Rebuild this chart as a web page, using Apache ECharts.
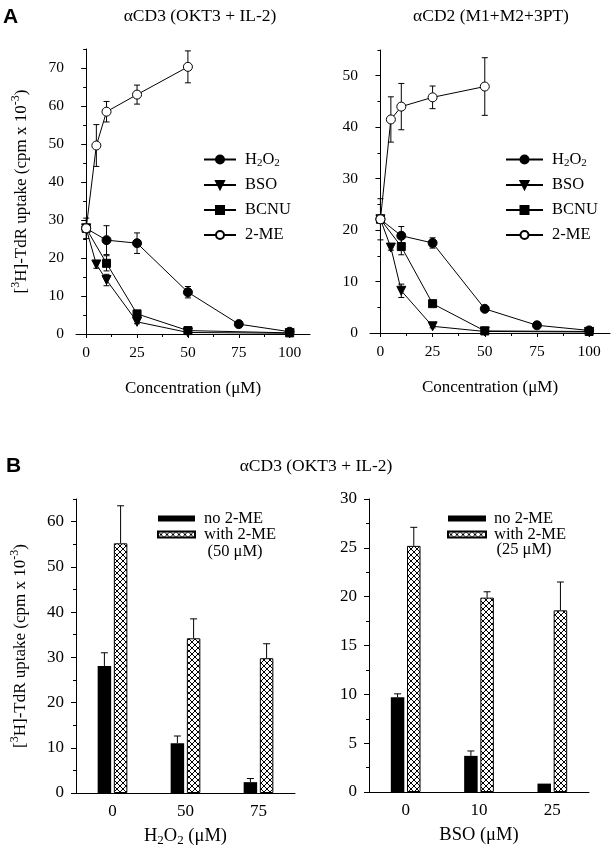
<!DOCTYPE html>
<html><head><meta charset="utf-8">
<script src="https://cdn.jsdelivr.net/npm/echarts@6/dist/echarts.min.js"></script>
<style>html,body{margin:0;padding:0;background:#fff}#c{width:612px;height:852px}</style>
</head><body><div id="c"></div>
<script>
// ---------- DATA ----------
// Panel A left: aCD3 (OKT3 + IL-2)
const cd3H2o2X = [0, 10, 25, 50, 75, 100];
const cd3H2o2Y = [27.8, 24.7, 23.9, 11.0, 2.6, 0.6];
const cd3H2o2E = [2.7, 3.8, 2.7, 1.5, 0, 0];
const cd3BsoX = [0, 5, 10, 25, 50, 100];
const cd3BsoY = [27.8, 18.3, 14.2, 3.2, 0.4, 0.2];
const cd3BsoE = [0, 1.0, 1.5, 0.5, 0, 0];
const cd3BcnuX = [0, 10, 25, 50, 100];
const cd3BcnuY = [27.8, 18.6, 5.3, 0.9, 0.3];
const cd3BcnuE = [0, 2.0, 0.8, 0, 0];
const cd3MeX = [0, 5, 10, 25, 50];
const cd3MeY = [27.8, 49.6, 58.5, 63.0, 70.3];
const cd3MeE = [0, 5.5, 2.7, 2.5, 4.2];
// Panel A right: aCD2 (M1+M2+3PT)
const cd2H2o2X = [0, 10, 25, 50, 75, 100];
const cd2H2o2Y = [22.1, 18.9, 17.5, 4.7, 1.5, 0.5];
const cd2H2o2E = [4.0, 1.8, 1.0, 0.4, 0, 0];
const cd2BsoX = [0, 5, 10, 25, 50, 100];
const cd2BsoY = [22.1, 16.6, 8.2, 1.3, 0.3, 0.2];
const cd2BsoE = [0, 0.5, 1.3, 0.3, 0, 0];
const cd2BcnuX = [0, 10, 25, 50, 100];
const cd2BcnuY = [22.1, 16.8, 5.7, 0.4, 0.3];
const cd2BcnuE = [0, 1.6, 0.4, 0, 0];
const cd2MeX = [0, 5, 10, 25, 50];
const cd2MeY = [22.1, 41.5, 44.0, 45.8, 47.9];
const cd2MeE = [0, 4.4, 4.5, 2.2, 5.6];
// Panel B
const h2o2Cats = ['0', '50', '75'];
const h2o2NoMe = [28.1, 11.0, 2.4];
const h2o2NoMeE = [2.9, 1.6, 0.8];
const h2o2WithMe = [55.2, 34.2, 29.8];
const h2o2WithMeE = [8.3, 4.3, 3.2];
const bsoCats = ['0', '10', '25'];
const bsoNoMe = [9.7, 3.7, 0.86];
const bsoNoMeE = [0.35, 0.5, 0];
const bsoWithMe = [25.2, 19.9, 18.6];
const bsoWithMeE = [1.9, 0.6, 2.9];
// Ticks
const concMajor = [0, 25, 50, 75, 100];
const concMinor = [12.5, 37.5, 62.5, 87.5];
const yA1Major = [0, 10, 20, 30, 40, 50, 60, 70];
const yA1Minor = [5, 15, 25, 35, 45, 55, 65, 75];
const yA2Major = [0, 10, 20, 30, 40, 50];
const yA2Minor = [5, 15, 25, 35, 45, 55];
const yB1Major = [0, 10, 20, 30, 40, 50, 60];
const yB1Minor = [5, 15, 25, 35, 45, 55, 65];
const yB2Major = [0, 5, 10, 15, 20, 25, 30];
const yB2Minor = [2.5, 7.5, 12.5, 17.5, 22.5, 27.5];

// ---------- STYLE ----------
const SERIF = "'Liberation Serif','Times New Roman',serif";
const hatch = (function () {
  const n = 6, c = document.createElement('canvas');
  c.width = n; c.height = n;
  const g = c.getContext('2d');
  g.fillStyle = '#fff'; g.fillRect(0, 0, n, n);
  g.fillStyle = '#000';
  for (let i = 0; i < n; i++) { g.fillRect(i, i, 1, 1); g.fillRect(n - 1 - i, i, 1, 1); }
  return c;
})();
const hatchFill = { image: hatch, repeat: 'repeat' };

function yRich(fs) {
  return {
    m: { fontFamily: SERIF, fontSize: fs, color: '#000', lineHeight: fs + 6 },
    sup: { fontFamily: SERIF, fontSize: Math.round(fs * 0.68), color: '#000', verticalAlign: 'top', lineHeight: fs + 6 }
  };
}
const yNameFull = '{m|[}{sup|3}{m|H]-TdR uptake (cpm x 10}{sup|-3}{m|)}';

function pairs(xs, ys) { return xs.map((x, i) => [x, ys[i]]); }
function triples(xs, ys, es) { return xs.map((x, i) => [x, ys[i], es[i]]); }

function mainX(grid, name, minX, maxX) {
  return {
    gridIndex: grid, type: 'value', min: minX, max: maxX, position: 'bottom',
    axisLine: { lineStyle: { color: '#000', width: 1 } },
    axisTick: { customValues: concMajor, length: 4, lineStyle: { color: '#000' } },
    axisLabel: { customValues: concMajor, color: '#000', fontFamily: SERIF, fontSize: 15.5, margin: 11 },
    splitLine: { show: false },
    name: name, nameLocation: 'middle', nameGap: 46,
    nameTextStyle: { color: '#000', fontFamily: SERIF, fontSize: 17 }
  };
}
function minorX(grid, minX, maxX) {
  return {
    gridIndex: grid, type: 'value', min: minX, max: maxX, position: 'bottom',
    axisLine: { show: false },
    axisTick: { customValues: concMinor, length: 3, lineStyle: { color: '#000' } },
    axisLabel: { show: false }, splitLine: { show: false }
  };
}
function mainY(grid, maxY, major, withName, fs, gap) {
  return {
    gridIndex: grid, type: 'value', min: 0, max: maxY, position: 'left',
    axisLine: { show: true, lineStyle: { color: '#000', width: 1 } },
    axisTick: { show: true, customValues: major, length: 5, lineStyle: { color: '#000' } },
    axisLabel: { customValues: major, color: '#000', fontFamily: SERIF, fontSize: fs, margin: 12 },
    splitLine: { show: false },
    name: withName ? yNameFull : '', nameLocation: 'middle', nameGap: gap, nameRotate: 90,
    nameTextStyle: { rich: yRich(17) }
  };
}
function minorY(grid, maxY, minor) {
  return {
    gridIndex: grid, type: 'value', min: 0, max: maxY, position: 'left',
    axisLine: { show: false },
    axisTick: { show: true, customValues: minor, length: 3, lineStyle: { color: '#000' } },
    axisLabel: { show: false }, splitLine: { show: false }
  };
}
function catX(grid, cats, nameRich) {
  return {
    gridIndex: grid, type: 'category', data: cats, position: 'bottom',
    axisLine: { lineStyle: { color: '#000', width: 1 } },
    axisTick: { show: false },
    axisLabel: { color: '#000', fontFamily: SERIF, fontSize: 17, margin: 10 },
    name: nameRich, nameLocation: 'middle', nameGap: 32,
    nameTextStyle: {
      rich: {
        m: { fontFamily: SERIF, fontSize: 18.5, color: '#000', lineHeight: 22 },
        sub: { fontFamily: SERIF, fontSize: 13, color: '#000', verticalAlign: 'bottom', lineHeight: 22, padding: [7, 0, 0, 0] }
      }
    }
  };
}

function errRender(params, api) {
  const e = api.value(2);
  if (!e) return null;
  const x = api.value(0), y = api.value(1);
  const t = api.coord([x, y + e]), b = api.coord([x, y - e]);
  const w = 3;
  const st = { stroke: '#000', lineWidth: 1 };
  return {
    type: 'group', children: [
      { type: 'line', shape: { x1: t[0], y1: t[1], x2: b[0], y2: b[1] }, style: st },
      { type: 'line', shape: { x1: t[0] - w, y1: t[1], x2: t[0] + w, y2: t[1] }, style: st },
      { type: 'line', shape: { x1: b[0] - w, y1: b[1], x2: b[0] + w, y2: b[1] }, style: st }
    ]
  };
}
const BAR_W = 13.5, BAR_GAP = 2.7;
function barErrRender(side) {
  return function (params, api) {
    const e = api.value(2);
    if (!e) return null;
    const i = api.value(0), y = api.value(1);
    const p0 = api.coord([i, y]), p1 = api.coord([i, y + e]);
    const x = p0[0] + side * (BAR_W + BAR_GAP) / 2;
    const w = 3.5;
    const st = { stroke: '#000', lineWidth: 1 };
    return {
      type: 'group', children: [
        { type: 'line', shape: { x1: x, y1: p0[1], x2: x, y2: p1[1] }, style: st },
        { type: 'line', shape: { x1: x - w, y1: p1[1], x2: x + w, y2: p1[1] }, style: st }
      ]
    };
  };
}

function lineSeries(name, xs, ys, grid, sym, size, rot, filled) {
  return {
    name: name, type: 'line', xAxisIndex: grid * 2, yAxisIndex: grid * 2,
    data: pairs(xs, ys), symbol: sym, symbolSize: size, symbolRotate: rot || 0,
    showAllSymbol: true,
    lineStyle: { color: '#000', width: 1 },
    itemStyle: { color: filled ? '#000' : '#fff', borderColor: '#000', borderWidth: 1 },
    emphasis: { disabled: true }, animation: false, z: 3
  };
}
function errSeries(xs, ys, es, grid) {
  return {
    type: 'custom', xAxisIndex: grid * 2, yAxisIndex: grid * 2,
    data: triples(xs, ys, es), renderItem: errRender, z: 2, silent: true, animation: false
  };
}
function barSeries(name, vals, grid, black) {
  return {
    name: name, type: 'bar', xAxisIndex: 4 + (grid - 2), yAxisIndex: grid * 2,
    data: vals, barWidth: BAR_W, barGap: (BAR_GAP / BAR_W * 100) + '%',
    itemStyle: black ? { color: '#000', borderColor: '#000', borderWidth: 0 } : { color: hatchFill, borderColor: '#000', borderWidth: 1 },
    emphasis: { disabled: true }, animation: false, z: 2
  };
}
function barErrSeries(vals, errs, grid, side) {
  return {
    type: 'custom', xAxisIndex: 4 + (grid - 2), yAxisIndex: grid * 2,
    data: vals.map((v, i) => [i, v, errs[i]]), renderItem: barErrRender(side), z: 1, silent: true, animation: false
  };
}

const legendRich = {
  sub: { fontFamily: SERIF, fontSize: 11, color: '#000', verticalAlign: 'bottom', padding: [7, 0, 0, 0] }
};
function legendFmt(n) { return n === 'H2O2' ? 'H{sub|2}O{sub|2}' : n; }
const TITLE_FONT = "17.5px " + SERIF;

const chart = echarts.init(document.getElementById('c'), null, { renderer: 'canvas' });
chart.setOption({
  animation: false,
  backgroundColor: '#fff',
  grid: [
    { left: 76, top: 49, width: 234, height: 285 },
    { left: 370, top: 50, width: 240, height: 283 },
    { left: 76, top: 499, width: 219, height: 294 },
    { left: 369, top: 499, width: 220, height: 293 }
  ],
  xAxis: [
    mainX(0, 'Concentration (μM)', -5, 110), minorX(0, -5, 110),
    mainX(1, 'Concentration (μM)', -5, 110), minorX(1, -5, 110),
    catX(2, h2o2Cats, '{m|H}{sub|2}{m|O}{sub|2}{m| (μM)}'),
    catX(3, bsoCats, '{m|BSO (μM)}')
  ],
  yAxis: [
    mainY(0, 75, yA1Major, true, 15.5, 43), minorY(0, 75, yA1Minor),
    mainY(1, 55, yA2Major, false, 15.5, 40), minorY(1, 55, yA2Minor),
    mainY(2, 65, yB1Major, true, 17, 44), minorY(2, 65, yB1Minor),
    mainY(3, 30, yB2Major, false, 17, 40), minorY(3, 30, yB2Minor)
  ],
  legend: [
    {
      left: 198, top: 146, orient: 'vertical', itemWidth: 32, itemHeight: 10, itemGap: 8,
      data: ['H2O2', 'BSO', 'BCNU', '2-ME'], selectedMode: false,
      formatter: legendFmt,
      textStyle: { fontFamily: SERIF, fontSize: 16.5, color: '#000', padding: [0, 0, 0, 4], rich: legendRich }
    },
    {
      left: 500, top: 146, orient: 'vertical', itemWidth: 37, itemHeight: 10, itemGap: 8,
      data: ['H2O2 ', 'BSO ', 'BCNU ', '2-ME '], selectedMode: false,
      formatter: n => legendFmt(n.trim()),
      textStyle: { fontFamily: SERIF, fontSize: 16.5, color: '#000', padding: [0, 0, 0, 4], rich: legendRich }
    },
    {
      left: 152, top: 505, orient: 'vertical', itemWidth: 37, itemHeight: 6, itemGap: -1,
      data: ['no 2-ME', 'with 2-ME'], selectedMode: false, icon: 'rect',
      textStyle: { fontFamily: SERIF, fontSize: 16.5, color: '#000', padding: [0, 0, 0, 4], lineHeight: 16 }
    },
    {
      left: 442, top: 505, orient: 'vertical', itemWidth: 38, itemHeight: 6, itemGap: -1,
      data: ['no 2-ME ', 'with 2-ME '], selectedMode: false, icon: 'rect',
      textStyle: { fontFamily: SERIF, fontSize: 16.5, color: '#000', padding: [0, 0, 0, 3], lineHeight: 16 }
    }
  ],
  graphic: [
    { type: 'text', left: 3, top: 7, style: { text: 'A', font: "bold 21px 'Liberation Sans', Arial, sans-serif", fill: '#000' } },
    { type: 'text', x: 200, y: 16, style: { text: 'αCD3 (OKT3 + IL-2)', font: TITLE_FONT, fill: '#000', textAlign: 'center', textVerticalAlign: 'middle' } },
    { type: 'text', x: 491, y: 16, style: { text: 'αCD2 (M1+M2+3PT)', font: TITLE_FONT, fill: '#000', textAlign: 'center', textVerticalAlign: 'middle' } },
    { type: 'text', left: 6, top: 456, style: { text: 'B', font: "bold 21px 'Liberation Sans', Arial, sans-serif", fill: '#000' } },
    { type: 'text', x: 316, y: 466, style: { text: 'αCD3 (OKT3 + IL-2)', font: TITLE_FONT, fill: '#000', textAlign: 'center', textVerticalAlign: 'middle' } },
    { type: 'text', x: 235, y: 552, style: { text: '(50 μM)', font: "16.5px " + SERIF, fill: '#000', textAlign: 'center', textVerticalAlign: 'middle' } },
    { type: 'text', x: 524, y: 550, style: { text: '(25 μM)', font: "16.5px " + SERIF, fill: '#000', textAlign: 'center', textVerticalAlign: 'middle' } }
  ],
  series: [
    errSeries(cd3H2o2X, cd3H2o2Y, cd3H2o2E, 0),
    errSeries(cd3BsoX, cd3BsoY, cd3BsoE, 0),
    errSeries(cd3BcnuX, cd3BcnuY, cd3BcnuE, 0),
    errSeries(cd3MeX, cd3MeY, cd3MeE, 0),
    lineSeries('H2O2', cd3H2o2X, cd3H2o2Y, 0, 'circle', 9, 0, true),
    lineSeries('BSO', cd3BsoX, cd3BsoY, 0, 'triangle', 9, 180, true),
    lineSeries('BCNU', cd3BcnuX, cd3BcnuY, 0, 'rect', 8, 0, true),
    lineSeries('2-ME', cd3MeX, cd3MeY, 0, 'circle', 9, 0, false),

    errSeries(cd2H2o2X, cd2H2o2Y, cd2H2o2E, 1),
    errSeries(cd2BsoX, cd2BsoY, cd2BsoE, 1),
    errSeries(cd2BcnuX, cd2BcnuY, cd2BcnuE, 1),
    errSeries(cd2MeX, cd2MeY, cd2MeE, 1),
    lineSeries('H2O2 ', cd2H2o2X, cd2H2o2Y, 1, 'circle', 9, 0, true),
    lineSeries('BSO ', cd2BsoX, cd2BsoY, 1, 'triangle', 9, 180, true),
    lineSeries('BCNU ', cd2BcnuX, cd2BcnuY, 1, 'rect', 8, 0, true),
    lineSeries('2-ME ', cd2MeX, cd2MeY, 1, 'circle', 9, 0, false),

    barSeries('no 2-ME', h2o2NoMe, 2, true),
    barSeries('with 2-ME', h2o2WithMe, 2, false),
    barErrSeries(h2o2NoMe, h2o2NoMeE, 2, -1),
    barErrSeries(h2o2WithMe, h2o2WithMeE, 2, 1),

    barSeries('no 2-ME ', bsoNoMe, 3, true),
    barSeries('with 2-ME ', bsoWithMe, 3, false),
    barErrSeries(bsoNoMe, bsoNoMeE, 3, -1),
    barErrSeries(bsoWithMe, bsoWithMeE, 3, 1)
  ]
});
</script>
</body></html>
